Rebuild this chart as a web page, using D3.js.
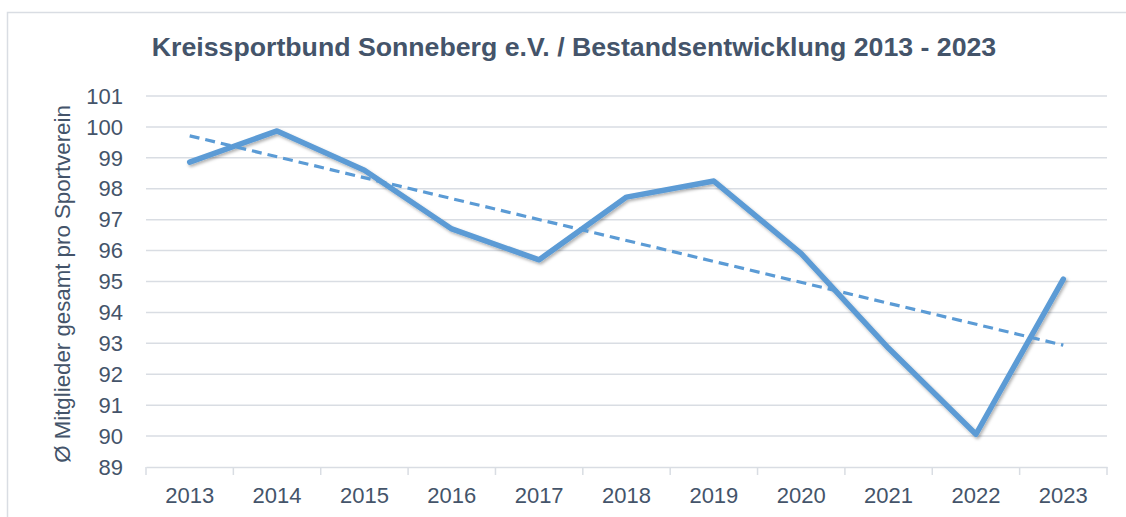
<!DOCTYPE html>
<html><head><meta charset="utf-8">
<script src="https://cdn.jsdelivr.net/npm/d3@7"></script>
<style>
html,body{margin:0;padding:0;background:#fff;}
svg{display:block;font-family:"Liberation Sans",Arial,sans-serif;}
</style></head>
<body><svg id="c" width="1126" height="517"></svg>
<script>
const years = ["2013","2014","2015","2016","2017","2018","2019","2020","2021","2022","2023"];
const members = [98.86, 99.87, 98.6, 96.7, 95.7, 97.73, 98.25, 95.9, 92.84, 90.06, 95.08];
const yTicks = [89,90,91,92,93,94,95,96,97,98,99,100,101];
const title = "Kreissportbund Sonneberg e.V. / Bestandsentwicklung 2013 - 2023";
const yTitle = "Ø Mitglieder gesamt pro Sportverein";

const svg = d3.select("#c");
const textCol = "#44546a", gridCol = "#d9dde3", lineCol = "#5b9bd5";
const L = 146, R = 1107, T = 96, B = 467;

// frame
svg.append("rect").attr("x",7.5).attr("y",12.5).attr("width",1130).attr("height",520)
  .attr("fill","#fff").attr("stroke",gridCol).attr("stroke-width",1.5);

const defs = svg.append("defs");
const f = defs.append("filter").attr("id","sh").attr("x","-5%").attr("y","-5%").attr("width","110%").attr("height","120%");
f.append("feDropShadow").attr("dx",1.5).attr("dy",2).attr("stdDeviation",1.5).attr("flood-color","#000").attr("flood-opacity",0.3);

const x = d3.scaleBand().domain(years).range([L,R]);
const y = d3.scaleLinear().domain([89,101]).range([B,T]);

// grid
svg.append("g").selectAll("line").data(yTicks.slice(1)).join("line")
  .attr("x1",L).attr("x2",R).attr("y1",d=>y(d)).attr("y2",d=>y(d))
  .attr("stroke",gridCol).attr("stroke-width",1.5);

// y labels
svg.append("g").selectAll("text").data(yTicks).join("text")
  .attr("x",123).attr("y",d=>y(d)).attr("dy","0.35em").attr("text-anchor","end")
  .attr("fill",textCol).attr("font-size",22).text(d=>d);

// x axis
const xa = svg.append("g").attr("transform",`translate(0,${B})`)
  .call(d3.axisBottom(x).tickSize(0).tickPadding(20));
xa.select(".domain").attr("stroke",gridCol).attr("stroke-width",1.5);
xa.selectAll("text").attr("fill",textCol).attr("font-size",22).attr("font-family","Liberation Sans, Arial, sans-serif");
const bounds = years.map(d=>x(d)).concat([R]);
svg.append("g").selectAll("line").data(bounds).join("line")
  .attr("x1",d=>d).attr("x2",d=>d).attr("y1",B).attr("y2",B+8)
  .attr("stroke",gridCol).attr("stroke-width",1.5);

// trend (least squares from data)
const n = members.length, mx = (n-1)/2, my = d3.mean(members);
let sxy=0,sxx=0; members.forEach((v,i)=>{sxy+=(i-mx)*(v-my); sxx+=(i-mx)*(i-mx);});
const slope = sxy/sxx, icpt = my - slope*mx;
const cx = d => x(d)+x.bandwidth()/2;

svg.append("path")
  .datum(members).attr("fill","none").attr("stroke",lineCol).attr("stroke-width",5.5)
  .attr("stroke-linejoin","round").attr("stroke-linecap","round").attr("filter","url(#sh)")
  .attr("d", d3.line().x((d,i)=>cx(years[i])).y(d=>y(d)));

svg.append("line")
  .attr("x1",cx(years[0])).attr("y1",y(icpt))
  .attr("x2",cx(years[n-1])).attr("y2",y(icpt+slope*(n-1)))
  .attr("stroke",lineCol).attr("stroke-width",3.2).attr("stroke-dasharray","10,6");

// title
const tt = svg.append("text").attr("x",574).attr("y",56).attr("text-anchor","middle")
  .attr("fill",textCol).attr("font-weight","bold").attr("font-size",22).text(title);
const w = tt.node().getComputedTextLength();
tt.attr("font-size", 22*845/w);

// y title
const yt = svg.append("text").attr("transform","translate(70,284) rotate(-90)")
  .attr("text-anchor","middle").attr("fill",textCol).attr("font-size",21).text(yTitle);
const wy = yt.node().getComputedTextLength();
yt.attr("font-size", 21*358/wy);
</script></body></html>
